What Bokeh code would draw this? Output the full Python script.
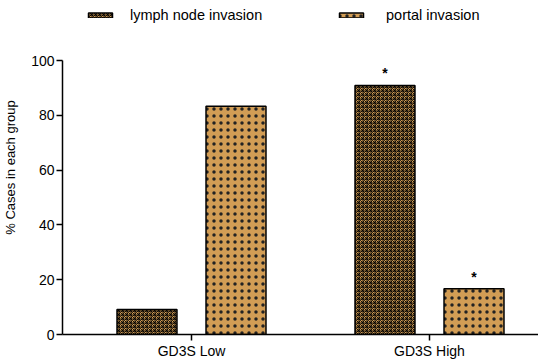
from bokeh.plotting import figure
from bokeh.models import Range1d, FixedTicker, Legend, LegendItem, ColumnDataSource
from bokeh.core.properties import value
from bokeh.embed import file_html
from bokeh.resources import INLINE

categories = ["GD3S Low", "GD3S High"]
series = ["lymph node invasion", "portal invasion"]
lymph = [9.1, 90.9]
portal = [83.3, 16.7]
star_lymph = ["", "*"]
star_portal = ["", "*"]
y_ticks = [0, 20, 40, 60, 80, 100]
y_label = "% Cases in each group"

FONT = "Liberation Sans"
TAN = "#D29D55"

p = figure(frame_width=476, frame_height=334, output_backend="svg", toolbar_location=None,
           x_range=Range1d(-0.542, 1.458), y_range=Range1d(0, 121.9),
           min_border_left=55, min_border_right=0, min_border_top=0, min_border_bottom=18)
p.outline_line_color = None
p.grid.visible = False

pos = list(range(len(categories)))
off = 0.187
w = 0.252
src1 = ColumnDataSource(dict(x=[i - off for i in pos], top=lymph, s=star_lymph))
src2 = ColumnDataSource(dict(x=[i + off for i in pos], top=portal, s=star_portal))

r1 = p.vbar(x="x", top="top", width=w, bottom=0, source=src1, fill_color=TAN,
            line_color="black", line_width=1.5, hatch_pattern="criss_cross", hatch_color="black",
            hatch_scale=4, hatch_weight=0.9)
r2 = p.vbar(x="x", top="top", width=w, bottom=0, source=src2, fill_color=TAN,
            line_color="black", line_width=1.5, hatch_pattern="dot", hatch_color="#222222",
            hatch_scale=7, hatch_weight=1.4)

for src in (src1, src2):
    p.text(x="x", y="top", text="s", source=src, text_align="center", text_baseline="bottom",
           y_offset=-4, text_font=value(FONT), text_font_size="14px", text_font_style="bold",
           text_color="black")

p.xaxis.ticker = FixedTicker(ticks=pos)
p.xaxis.major_label_overrides = {i: c for i, c in enumerate(categories)}
p.yaxis.ticker = FixedTicker(ticks=y_ticks)
p.yaxis.bounds = (0, 100)
for ax in (p.xaxis, p.yaxis):
    ax.axis_line_width = 1.5
    ax.axis_line_color = "black"
    ax.major_tick_line_color = "black"
    ax.major_tick_line_width = 1.5
    ax.minor_tick_line_color = None
    ax.major_tick_in = 0
    ax.major_tick_out = 6
    ax.major_label_text_font = FONT
    ax.major_label_text_font_size = "14px"
    ax.major_label_text_color = "black"
    ax.major_label_standoff = 2
p.yaxis.axis_label = y_label
p.yaxis.axis_label_text_font = FONT
p.yaxis.axis_label_text_font_size = "13px"
p.yaxis.axis_label_text_font_style = "normal"
p.yaxis.axis_label_text_color = "black"
p.yaxis.axis_label_standoff = 10

common = dict(glyph_width=30, glyph_height=6, padding=0, margin=0, border_line_alpha=0,
              background_fill_alpha=0, label_text_font=FONT, label_text_font_size="14.5px",
              label_text_color="black")
leg1 = Legend(items=[LegendItem(label=series[0], renderers=[r1])], location=(23, 311),
              label_standoff=15, **common)
leg2 = Legend(items=[LegendItem(label=series[1], renderers=[r2])], location=(274, 311),
              label_standoff=20, **common)
p.add_layout(leg1, "center")
p.add_layout(leg2, "center")

open("out.html", "w").write(file_html(p, INLINE))
